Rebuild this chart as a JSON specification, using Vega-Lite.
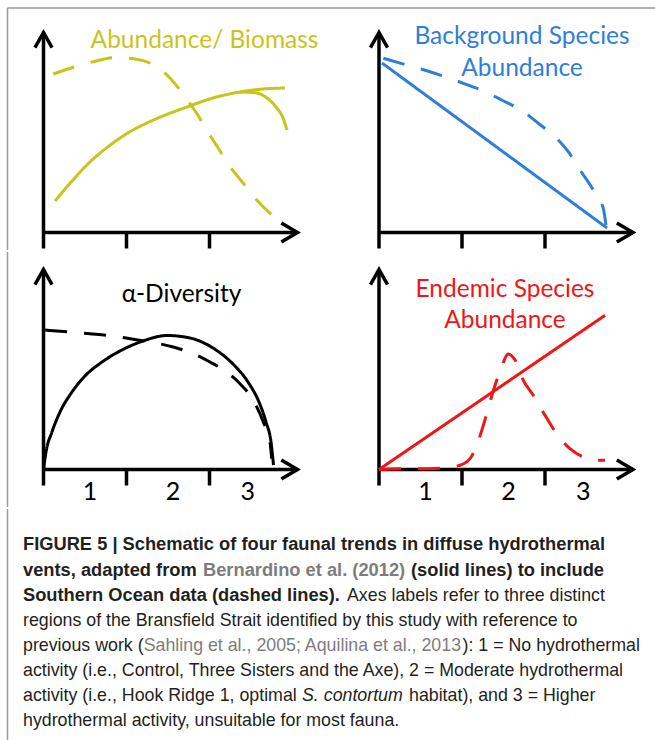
{
  "$schema": "https://vega.github.io/schema/vega-lite/v6.json",
  "padding": 0,
  "spacing": 0,
  "background": "white",
  "config": {"view": {"stroke": null}},
  "datasets": {
    "frame": [
      {"p": "TL", "u": 0.0663, "v": 1.1225, "u2": 3.9518, "v2": 1.1225},
      {"p": "TL", "u": 0.0663, "v": 1.1225, "u2": 0.0663, "v2": -0.0875},
      {"p": "TR", "u": -0.0904, "v": 1.1225, "u2": 3.8253, "v2": 1.1225},
      {"p": "BL", "u": 0.0663, "v": 1.0875, "u2": 0.0663, "v2": -0.1875}
    ],
    "axes": [
      {"u": 0.5, "v": -0.08, "u2": 0.5, "v2": 1.0},
      {"u": 0.5, "v": 0, "u2": 3.56, "v2": 0},
      {"u": 1.5, "v": 0, "u2": 1.5, "v2": -0.08},
      {"u": 2.5, "v": 0, "u2": 2.5, "v2": -0.08}
    ],
    "arrows": [
      {"dir": "up", "u": 0.5, "v": 1.0},
      {"dir": "right", "u": 3.56, "v": 0}
    ],
    "ticklabels": [
      {"t": "1", "u": 1.06, "v": -0.1525},
      {"t": "2", "u": 2.06, "v": -0.1525},
      {"t": "3", "u": 2.96, "v": -0.1525}
    ],
    "labels": [
      {"p": "TL", "t": "Abundance/ Biomass", "u": 2.44, "v": 0.9225},
      {"p": "TR", "t": "Background Species", "u": 2.223, "v": 0.9425},
      {"p": "TR", "t": "Abundance", "u": 2.223, "v": 0.7825},
      {"p": "BL", "t": "α-Diversity", "u": 2.163, "v": 0.8375},
      {"p": "BR", "t": "Endemic Species", "u": 2.018, "v": 0.8625},
      {"p": "BR", "t": "Abundance", "u": 2.018, "v": 0.7075}
    ],
    "curves": [
      {"p": "TL", "s": "a", "d": "solid", "u": 0.639, "v": 0.1575},
      {"p": "TL", "s": "a", "d": "solid", "u": 0.843, "v": 0.2575},
      {"p": "TL", "s": "a", "d": "solid", "u": 1.072, "v": 0.3575},
      {"p": "TL", "s": "a", "d": "solid", "u": 1.289, "v": 0.4325},
      {"p": "TL", "s": "a", "d": "solid", "u": 1.506, "v": 0.495},
      {"p": "TL", "s": "a", "d": "solid", "u": 1.867, "v": 0.57},
      {"p": "TL", "s": "a", "d": "solid", "u": 2.229, "v": 0.6275},
      {"p": "TL", "s": "a", "d": "solid", "u": 2.542, "v": 0.6725},
      {"p": "TL", "s": "a", "d": "solid", "u": 2.867, "v": 0.7025},
      {"p": "TL", "s": "a", "d": "solid", "u": 3.145, "v": 0.7175},
      {"p": "TL", "s": "a", "d": "solid", "u": 3.410, "v": 0.7225},
      {"p": "TL", "s": "b", "d": "solid", "u": 2.867, "v": 0.7025},
      {"p": "TL", "s": "b", "d": "solid", "u": 3.048, "v": 0.699},
      {"p": "TL", "s": "b", "d": "solid", "u": 3.193, "v": 0.6725},
      {"p": "TL", "s": "b", "d": "solid", "u": 3.301, "v": 0.6275},
      {"p": "TL", "s": "b", "d": "solid", "u": 3.386, "v": 0.5725},
      {"p": "TL", "s": "b", "d": "solid", "u": 3.434, "v": 0.5125},
      {"p": "TL", "s": "c", "d": "dashed", "u": 0.618, "v": 0.7925},
      {"p": "TL", "s": "c", "d": "dashed", "u": 0.880, "v": 0.829},
      {"p": "TL", "s": "c", "d": "dashed", "u": 1.100, "v": 0.854},
      {"p": "TL", "s": "c", "d": "dashed", "u": 1.361, "v": 0.874},
      {"p": "TL", "s": "c", "d": "dashed", "u": 1.602, "v": 0.8675},
      {"p": "TL", "s": "c", "d": "dashed", "u": 1.864, "v": 0.829},
      {"p": "TL", "s": "c", "d": "dashed", "u": 2.045, "v": 0.7625},
      {"p": "TL", "s": "c", "d": "dashed", "u": 2.205, "v": 0.679},
      {"p": "TL", "s": "c", "d": "dashed", "u": 2.346, "v": 0.596},
      {"p": "TL", "s": "c", "d": "dashed", "u": 2.466, "v": 0.5125},
      {"p": "TL", "s": "c", "d": "dashed", "u": 2.606, "v": 0.421},
      {"p": "TL", "s": "c", "d": "dashed", "u": 2.747, "v": 0.329},
      {"p": "TL", "s": "c", "d": "dashed", "u": 2.907, "v": 0.246},
      {"p": "TL", "s": "c", "d": "dashed", "u": 3.069, "v": 0.1625},
      {"p": "TL", "s": "c", "d": "dashed", "u": 3.349, "v": 0.054},
      {"p": "TR", "s": "a", "d": "solid", "u": 0.536, "v": 0.8475},
      {"p": "TR", "s": "a", "d": "solid", "u": 3.247, "v": 0.0225},
      {"p": "TR", "s": "c", "d": "dashed", "u": 0.552, "v": 0.871},
      {"p": "TR", "s": "c", "d": "dashed", "u": 0.834, "v": 0.8375},
      {"p": "TR", "s": "c", "d": "dashed", "u": 1.046, "v": 0.8125},
      {"p": "TR", "s": "c", "d": "dashed", "u": 1.316, "v": 0.776},
      {"p": "TR", "s": "c", "d": "dashed", "u": 1.516, "v": 0.746},
      {"p": "TR", "s": "c", "d": "dashed", "u": 1.777, "v": 0.704},
      {"p": "TR", "s": "c", "d": "dashed", "u": 1.978, "v": 0.6625},
      {"p": "TR", "s": "c", "d": "dashed", "u": 2.239, "v": 0.604},
      {"p": "TR", "s": "c", "d": "dashed", "u": 2.419, "v": 0.546},
      {"p": "TR", "s": "c", "d": "dashed", "u": 2.641, "v": 0.471},
      {"p": "TR", "s": "c", "d": "dashed", "u": 2.781, "v": 0.404},
      {"p": "TR", "s": "c", "d": "dashed", "u": 2.922, "v": 0.3125},
      {"p": "TR", "s": "c", "d": "dashed", "u": 3.082, "v": 0.2125},
      {"p": "TR", "s": "c", "d": "dashed", "u": 3.202, "v": 0.121},
      {"p": "TR", "s": "c", "d": "dashed", "u": 3.235, "v": 0.0375},
      {"p": "BL", "s": "a", "d": "solid", "u": 0.5, "v": 0},
      {"p": "BL", "s": "a", "d": "solid", "u": 0.530, "v": 0.0875},
      {"p": "BL", "s": "a", "d": "solid", "u": 0.602, "v": 0.1875},
      {"p": "BL", "s": "a", "d": "solid", "u": 0.699, "v": 0.2875},
      {"p": "BL", "s": "a", "d": "solid", "u": 0.843, "v": 0.3875},
      {"p": "BL", "s": "a", "d": "solid", "u": 1.012, "v": 0.4725},
      {"p": "BL", "s": "a", "d": "solid", "u": 1.205, "v": 0.5375},
      {"p": "BL", "s": "a", "d": "solid", "u": 1.422, "v": 0.5925},
      {"p": "BL", "s": "a", "d": "solid", "u": 1.699, "v": 0.6425},
      {"p": "BL", "s": "a", "d": "solid", "u": 1.988, "v": 0.67},
      {"p": "BL", "s": "a", "d": "solid", "u": 2.265, "v": 0.6575},
      {"p": "BL", "s": "a", "d": "solid", "u": 2.542, "v": 0.6075},
      {"p": "BL", "s": "a", "d": "solid", "u": 2.783, "v": 0.5275},
      {"p": "BL", "s": "a", "d": "solid", "u": 2.964, "v": 0.4375},
      {"p": "BL", "s": "a", "d": "solid", "u": 3.096, "v": 0.3375},
      {"p": "BL", "s": "a", "d": "solid", "u": 3.181, "v": 0.2375},
      {"p": "BL", "s": "a", "d": "solid", "u": 3.241, "v": 0.1375},
      {"p": "BL", "s": "a", "d": "solid", "u": 3.271, "v": 0.0225},
      {"p": "BL", "s": "c", "d": "dashed", "u": 0.52, "v": 0.697},
      {"p": "BL", "s": "c", "d": "dashed", "u": 0.819, "v": 0.6875},
      {"p": "BL", "s": "c", "d": "dashed", "u": 1.060, "v": 0.679},
      {"p": "BL", "s": "c", "d": "dashed", "u": 1.341, "v": 0.6675},
      {"p": "BL", "s": "c", "d": "dashed", "u": 1.582, "v": 0.651},
      {"p": "BL", "s": "c", "d": "dashed", "u": 1.783, "v": 0.6375},
      {"p": "BL", "s": "c", "d": "dashed", "u": 2.064, "v": 0.6125},
      {"p": "BL", "s": "c", "d": "dashed", "u": 2.305, "v": 0.579},
      {"p": "BL", "s": "c", "d": "dashed", "u": 2.506, "v": 0.5375},
      {"p": "BL", "s": "c", "d": "dashed", "u": 2.707, "v": 0.4875},
      {"p": "BL", "s": "c", "d": "dashed", "u": 2.867, "v": 0.429},
      {"p": "BL", "s": "c", "d": "dashed", "u": 3.028, "v": 0.346},
      {"p": "BL", "s": "c", "d": "dashed", "u": 3.148, "v": 0.2375},
      {"p": "BL", "s": "c", "d": "dashed", "u": 3.229, "v": 0.1375},
      {"p": "BL", "s": "c", "d": "dashed", "u": 3.249, "v": 0.054},
      {"p": "BR", "s": "a", "d": "solid", "u": 0.5, "v": 0},
      {"p": "BR", "s": "a", "d": "solid", "u": 3.223, "v": 0.771},
      {"p": "BR", "s": "c", "d": "dashed", "u": 0.5, "v": 0},
      {"p": "BR", "s": "c", "d": "dashed", "u": 0.753, "v": 0.004},
      {"p": "BR", "s": "c", "d": "dashed", "u": 0.994, "v": 0.004},
      {"p": "BR", "s": "c", "d": "dashed", "u": 1.275, "v": 0.0075},
      {"p": "BR", "s": "c", "d": "dashed", "u": 1.476, "v": 0.021},
      {"p": "BR", "s": "c", "d": "dashed", "u": 1.596, "v": 0.054},
      {"p": "BR", "s": "c", "d": "dashed", "u": 1.677, "v": 0.121},
      {"p": "BR", "s": "c", "d": "dashed", "u": 1.757, "v": 0.221},
      {"p": "BR", "s": "c", "d": "dashed", "u": 1.837, "v": 0.3375},
      {"p": "BR", "s": "c", "d": "dashed", "u": 1.898, "v": 0.421},
      {"p": "BR", "s": "c", "d": "dashed", "u": 1.978, "v": 0.5125},
      {"p": "BR", "s": "c", "d": "dashed", "u": 2.054, "v": 0.5775},
      {"p": "BR", "s": "c", "d": "dashed", "u": 2.139, "v": 0.5475},
      {"p": "BR", "s": "c", "d": "dashed", "u": 2.239, "v": 0.446},
      {"p": "BR", "s": "c", "d": "dashed", "u": 2.359, "v": 0.371},
      {"p": "BR", "s": "c", "d": "dashed", "u": 2.5, "v": 0.271},
      {"p": "BR", "s": "c", "d": "dashed", "u": 2.641, "v": 0.179},
      {"p": "BR", "s": "c", "d": "dashed", "u": 2.801, "v": 0.104},
      {"p": "BR", "s": "c", "d": "dashed", "u": 2.961, "v": 0.0625},
      {"p": "BR", "s": "c", "d": "dashed", "u": 3.123, "v": 0.046},
      {"p": "BR", "s": "c", "d": "dashed", "u": 3.223, "v": 0.046}
    ],
    "capframe": [
      {"x": 7.5, "line": -0.653, "line2": 8.709}
    ],
    "caption": [
      {"line": 1, "x": 23, "f": "bb", "t": "FIGURE 5 | Schematic of four faunal trends in diffuse hydrothermal"},
      {"line": 2, "x": 23, "f": "bb", "t": "vents, adapted from"},
      {"line": 2, "x": 203, "f": "bg", "t": "Bernardino et al. (2012)"},
      {"line": 2, "x": 411, "f": "bb", "t": "(solid lines) to include"},
      {"line": 3, "x": 23, "f": "bb", "t": "Southern Ocean data (dashed lines)."},
      {"line": 3, "x": 347, "f": "nb", "t": "Axes labels refer to three distinct"},
      {"line": 4, "x": 23, "f": "nb", "t": "regions of the Bransfield Strait identified by this study with reference to"},
      {"line": 5, "x": 23, "f": "nb", "t": "previous work ("},
      {"line": 5, "x": 143.7, "f": "ng", "t": "Sahling et al., 2005; Aquilina et al., 2013"},
      {"line": 5, "x": 462.5, "f": "nb", "t": "): 1 = No hydrothermal"},
      {"line": 6, "x": 23, "f": "nb", "t": "activity (i.e., Control, Three Sisters and the Axe), 2 = Moderate hydrothermal"},
      {"line": 7, "x": 23, "f": "nb", "t": "activity (i.e., Hook Ridge 1, optimal"},
      {"line": 7, "x": 302, "f": "ib", "t": "S. contortum"},
      {"line": 7, "x": 409, "f": "nb", "t": "habitat), and 3 = Higher"},
      {"line": 8, "x": 23, "f": "nb", "t": "hydrothermal activity, unsuitable for most fauna."}
    ]
  },
  "vconcat": [
    {
      "spacing": 0,
      "bounds": "flush",
      "hconcat": [
        {
          "width": 330,
          "height": 250,
          "encoding": {
            "x": {"field": "u", "type": "quantitative", "scale": {"domain": [-0.0241, 3.9518], "nice": false, "zero": false}, "axis": null},
            "y": {"field": "v", "type": "quantitative", "scale": {"domain": [-0.0875, 1.1625], "nice": false, "zero": false}, "axis": null}
          },
          "layer": [
            {"data": {"name": "frame"}, "transform": [{"filter": "datum.p == 'TL'"}], "mark": {"type": "rule", "color": "#9a9a9a", "strokeWidth": 1.5}, "encoding": {"x2": {"field": "u2"}, "y2": {"field": "v2"}}},
            {"data": {"name": "axes"}, "mark": {"type": "rule", "color": "black", "strokeWidth": 3.5, "strokeCap": "butt"}, "encoding": {"x2": {"field": "u2"}, "y2": {"field": "v2"}}},
            {"data": {"name": "arrows"}, "transform": [{"filter": "datum.dir == 'up'"}], "mark": {"type": "point", "shape": "M-0.9,1.6L0,0L0.9,1.6", "size": 361, "filled": false, "color": "black", "strokeWidth": 3.5, "opacity": 1, "strokeJoin": "miter"}},
            {"data": {"name": "arrows"}, "transform": [{"filter": "datum.dir == 'right'"}], "mark": {"type": "point", "shape": "M-1.7,-1L0,0L-1.7,1", "size": 361, "filled": false, "color": "black", "strokeWidth": 3.5, "opacity": 1, "strokeJoin": "miter"}},
            {"data": {"name": "curves"}, "transform": [{"filter": "datum.p == 'TL'"}], "mark": {"type": "line", "color": "#c9c41a", "strokeWidth": 3, "interpolate": "monotone"}, "encoding": {"detail": {"field": "s"}, "strokeDash": {"field": "d", "type": "nominal", "scale": {"domain": ["solid", "dashed"], "range": [[1, 0], [22, 17]]}, "legend": null}}},
            {"data": {"name": "labels"}, "transform": [{"filter": "datum.p == 'TL'"}], "mark": {"type": "text", "font": "Lato", "fontSize": 24.5, "color": "#c9c41a", "align": "center", "baseline": "alphabetic"}, "encoding": {"text": {"field": "t"}}}
          ]
        },
        {
          "width": 325,
          "height": 250,
          "encoding": {
            "x": {"field": "u", "type": "quantitative", "scale": {"domain": [-0.0904, 3.8253], "nice": false, "zero": false}, "axis": null},
            "y": {"field": "v", "type": "quantitative", "scale": {"domain": [-0.0875, 1.1625], "nice": false, "zero": false}, "axis": null}
          },
          "layer": [
            {"data": {"name": "frame"}, "transform": [{"filter": "datum.p == 'TR'"}], "mark": {"type": "rule", "color": "#9a9a9a", "strokeWidth": 1.5}, "encoding": {"x2": {"field": "u2"}, "y2": {"field": "v2"}}},
            {"data": {"name": "axes"}, "mark": {"type": "rule", "color": "black", "strokeWidth": 3.5, "strokeCap": "butt"}, "encoding": {"x2": {"field": "u2"}, "y2": {"field": "v2"}}},
            {"data": {"name": "arrows"}, "transform": [{"filter": "datum.dir == 'up'"}], "mark": {"type": "point", "shape": "M-0.9,1.6L0,0L0.9,1.6", "size": 361, "filled": false, "color": "black", "strokeWidth": 3.5, "opacity": 1, "strokeJoin": "miter"}},
            {"data": {"name": "arrows"}, "transform": [{"filter": "datum.dir == 'right'"}], "mark": {"type": "point", "shape": "M-1.7,-1L0,0L-1.7,1", "size": 361, "filled": false, "color": "black", "strokeWidth": 3.5, "opacity": 1, "strokeJoin": "miter"}},
            {"data": {"name": "curves"}, "transform": [{"filter": "datum.p == 'TR'"}], "mark": {"type": "line", "color": "#2f7ed8", "strokeWidth": 3, "interpolate": "monotone"}, "encoding": {"detail": {"field": "s"}, "strokeDash": {"field": "d", "type": "nominal", "scale": {"domain": ["solid", "dashed"], "range": [[1, 0], [22, 17]]}, "legend": null}}},
            {"data": {"name": "labels"}, "transform": [{"filter": "datum.p == 'TR'"}], "mark": {"type": "text", "font": "Lato", "fontSize": 24.5, "color": "#2f7ed8", "align": "center", "baseline": "alphabetic"}, "encoding": {"text": {"field": "t"}}}
          ]
        }
      ]
    },
    {
      "spacing": 0,
      "bounds": "flush",
      "hconcat": [
        {
          "width": 330,
          "height": 255,
          "encoding": {
            "x": {"field": "u", "type": "quantitative", "scale": {"domain": [-0.0241, 3.9518], "nice": false, "zero": false}, "axis": null},
            "y": {"field": "v", "type": "quantitative", "scale": {"domain": [-0.1875, 1.0875], "nice": false, "zero": false}, "axis": null}
          },
          "layer": [
            {"data": {"name": "frame"}, "transform": [{"filter": "datum.p == 'BL'"}], "mark": {"type": "rule", "color": "#9a9a9a", "strokeWidth": 1.5}, "encoding": {"x2": {"field": "u2"}, "y2": {"field": "v2"}}},
            {"data": {"name": "axes"}, "mark": {"type": "rule", "color": "black", "strokeWidth": 3.5, "strokeCap": "butt"}, "encoding": {"x2": {"field": "u2"}, "y2": {"field": "v2"}}},
            {"data": {"name": "arrows"}, "transform": [{"filter": "datum.dir == 'up'"}], "mark": {"type": "point", "shape": "M-0.9,1.6L0,0L0.9,1.6", "size": 361, "filled": false, "color": "black", "strokeWidth": 3.5, "opacity": 1, "strokeJoin": "miter"}},
            {"data": {"name": "arrows"}, "transform": [{"filter": "datum.dir == 'right'"}], "mark": {"type": "point", "shape": "M-1.7,-1L0,0L-1.7,1", "size": 361, "filled": false, "color": "black", "strokeWidth": 3.5, "opacity": 1, "strokeJoin": "miter"}},
            {"data": {"name": "curves"}, "transform": [{"filter": "datum.p == 'BL'"}], "mark": {"type": "line", "color": "black", "strokeWidth": 3, "interpolate": "monotone"}, "encoding": {"detail": {"field": "s"}, "strokeDash": {"field": "d", "type": "nominal", "scale": {"domain": ["solid", "dashed"], "range": [[1, 0], [22, 17]]}, "legend": null}}},
            {"data": {"name": "labels"}, "transform": [{"filter": "datum.p == 'BL'"}], "mark": {"type": "text", "font": "Lato", "fontSize": 24.5, "color": "black", "align": "center", "baseline": "alphabetic"}, "encoding": {"text": {"field": "t"}}},
            {"data": {"name": "ticklabels"}, "mark": {"type": "text", "font": "Lato", "fontSize": 25, "color": "black", "align": "center", "baseline": "alphabetic"}, "encoding": {"text": {"field": "t"}}}
          ]
        },
        {
          "width": 325,
          "height": 255,
          "encoding": {
            "x": {"field": "u", "type": "quantitative", "scale": {"domain": [-0.0904, 3.8253], "nice": false, "zero": false}, "axis": null},
            "y": {"field": "v", "type": "quantitative", "scale": {"domain": [-0.1875, 1.0875], "nice": false, "zero": false}, "axis": null}
          },
          "layer": [
            {"data": {"name": "axes"}, "mark": {"type": "rule", "color": "black", "strokeWidth": 3.5, "strokeCap": "butt"}, "encoding": {"x2": {"field": "u2"}, "y2": {"field": "v2"}}},
            {"data": {"name": "arrows"}, "transform": [{"filter": "datum.dir == 'up'"}], "mark": {"type": "point", "shape": "M-0.9,1.6L0,0L0.9,1.6", "size": 361, "filled": false, "color": "black", "strokeWidth": 3.5, "opacity": 1, "strokeJoin": "miter"}},
            {"data": {"name": "arrows"}, "transform": [{"filter": "datum.dir == 'right'"}], "mark": {"type": "point", "shape": "M-1.7,-1L0,0L-1.7,1", "size": 361, "filled": false, "color": "black", "strokeWidth": 3.5, "opacity": 1, "strokeJoin": "miter"}},
            {"data": {"name": "curves"}, "transform": [{"filter": "datum.p == 'BR'"}], "mark": {"type": "line", "color": "#f01616", "strokeWidth": 3, "interpolate": "monotone"}, "encoding": {"detail": {"field": "s"}, "strokeDash": {"field": "d", "type": "nominal", "scale": {"domain": ["solid", "dashed"], "range": [[1, 0], [22, 17]]}, "legend": null}}},
            {"data": {"name": "labels"}, "transform": [{"filter": "datum.p == 'BR'"}], "mark": {"type": "text", "font": "Lato", "fontSize": 24.5, "color": "#f01616", "align": "center", "baseline": "alphabetic"}, "encoding": {"text": {"field": "t"}}},
            {"data": {"name": "ticklabels"}, "mark": {"type": "text", "font": "Lato", "fontSize": 25, "color": "black", "align": "center", "baseline": "alphabetic"}, "encoding": {"text": {"field": "t"}}}
          ]
        }
      ]
    },
    {
      "width": 655,
      "height": 235,
      "encoding": {
        "x": {"field": "x", "type": "quantitative", "scale": {"domain": [0, 655], "nice": false, "zero": false}, "axis": null},
        "y": {"field": "line", "type": "quantitative", "scale": {"domain": [-0.653, 8.709], "reverse": true, "nice": false, "zero": false}, "axis": null}
      },
      "layer": [
        {"data": {"name": "capframe"}, "mark": {"type": "rule", "color": "#9a9a9a", "strokeWidth": 1.5}, "encoding": {"y2": {"field": "line2"}}},
        {"data": {"name": "caption"}, "transform": [{"filter": "datum.f == 'bb'"}], "mark": {"type": "text", "font": "Liberation Sans", "fontSize": 18.3, "fontWeight": "bold", "color": "#231f20", "align": "left", "baseline": "alphabetic"}, "encoding": {"text": {"field": "t"}}},
        {"data": {"name": "caption"}, "transform": [{"filter": "datum.f == 'bg'"}], "mark": {"type": "text", "font": "Liberation Sans", "fontSize": 18.3, "fontWeight": "bold", "color": "#7d7d7d", "align": "left", "baseline": "alphabetic"}, "encoding": {"text": {"field": "t"}}},
        {"data": {"name": "caption"}, "transform": [{"filter": "datum.f == 'nb'"}], "mark": {"type": "text", "font": "Liberation Sans", "fontSize": 17.8, "color": "#231f20", "align": "left", "baseline": "alphabetic"}, "encoding": {"text": {"field": "t"}}},
        {"data": {"name": "caption"}, "transform": [{"filter": "datum.f == 'ng'"}], "mark": {"type": "text", "font": "Liberation Sans", "fontSize": 17.8, "color": "#7d7d7d", "align": "left", "baseline": "alphabetic"}, "encoding": {"text": {"field": "t"}}},
        {"data": {"name": "caption"}, "transform": [{"filter": "datum.f == 'ib'"}], "mark": {"type": "text", "font": "Liberation Sans", "fontSize": 17.8, "fontStyle": "italic", "color": "#231f20", "align": "left", "baseline": "alphabetic"}, "encoding": {"text": {"field": "t"}}}
      ]
    }
  ]
}
